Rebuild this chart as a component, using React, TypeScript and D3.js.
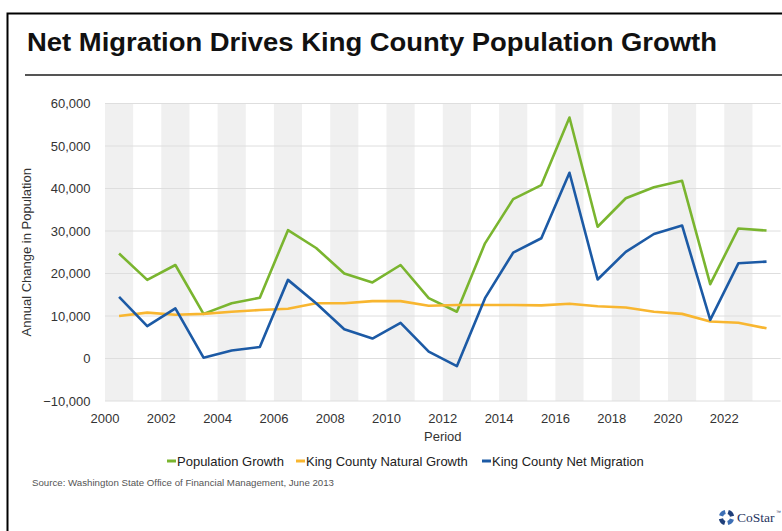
import React from "react";
import * as d3 from "d3";

const years = [2000, 2001, 2002, 2003, 2004, 2005, 2006, 2007, 2008, 2009, 2010, 2011, 2012, 2013, 2014, 2015, 2016, 2017, 2018, 2019, 2020, 2021, 2022, 2023];
const populationGrowth = [24700, 18500, 22000, 10500, 13000, 14300, 30200, 26000, 20000, 17900, 22000, 14200, 11000, 27100, 37500, 40800, 56700, 31000, 37700, 40300, 41800, 17500, 30600, 30100];
const naturalGrowth = [10000, 10800, 10300, 10500, 11000, 11400, 11700, 13000, 13000, 13500, 13500, 12400, 12600, 12600, 12600, 12500, 12900, 12300, 12000, 11000, 10500, 8700, 8400, 7100];
const netMigration = [14500, 7600, 11800, 200, 1900, 2700, 18500, 13000, 6900, 4700, 8400, 1600, -1800, 14200, 24900, 28300, 43700, 18600, 25100, 29300, 31300, 9100, 22400, 22800];
const yTicks = [-10000, 0, 10000, 20000, 30000, 40000, 50000, 60000];
const xTicks = [2000, 2002, 2004, 2006, 2008, 2010, 2012, 2014, 2016, 2018, 2020, 2022];
const seriesNames = ["Population Growth", "King County Natural Growth", "King County Net Migration"];
const seriesColors = ["#7ab52f", "#f8b630", "#1c5aa5"];

const FONT = "'Liberation Sans', Arial, sans-serif";

export default function App() {
  const W = 782, H = 531;
  const left = 105, right = 780.6, top = 103.5, bottom = 401;
  const x = d3.scaleLinear().domain([2000, 2024]).range([left, right]);
  const y = d3.scaleLinear().domain([-10000, 60000]).range([bottom, top]);
  const series = [populationGrowth, naturalGrowth, netMigration];
  const line = d3.line<number>().x((_, i) => x(years[i] + 0.5)).y((d) => y(d));
  const bandYears = years.filter((yr) => yr % 2 === 0);
  const fmt = d3.format(",");

  const legendX = [167, 296, 482];
  const cx = 726.5, cy = 517.5;
  const arc = d3.arc<any>();
  const logoArcs = [0, 1, 2, 3].map((k) => ({
    innerRadius: 3.6,
    outerRadius: 7.8,
    startAngle: (k * Math.PI) / 2 + 0.3,
    endAngle: (k * Math.PI) / 2 + 1.35,
  }));

  return (
    <svg width={W} height={H} style={{ position: "absolute", left: 0, top: 0, background: "#fff" }} fontFamily={FONT}>
      <rect x={0} y={0} width={W} height={H} fill="#fff" />
      <rect x={7.5} y={13.5} width={W + 20} height={H + 20} fill="none" stroke="#000" strokeWidth={2} />
      <text x={27} y={51} fontSize={26} fontWeight="bold" fill="#111" textLength={690} lengthAdjust="spacingAndGlyphs">
        Net Migration Drives King County Population Growth
      </text>
      <line x1={25} x2={W} y1={75} y2={75} stroke="#555" strokeWidth={2} />

      {bandYears.map((yr) => (
        <rect key={yr} x={x(yr)} y={top} width={x(yr + 1) - x(yr)} height={bottom - top} fill="#f0f0f0" />
      ))}
      {yTicks.map((t) => (
        <g key={t}>
          <line x1={left} x2={right} y1={y(t)} y2={y(t)} stroke="#dedede" strokeWidth={1} />
          <text x={90.5} y={y(t)} dy="0.35em" textAnchor="end" fontSize={13} fill="#333">
            {fmt(t)}
          </text>
        </g>
      ))}
      {xTicks.map((t) => (
        <text key={t} x={x(t)} y={423} textAnchor="middle" fontSize={13} fill="#333">
          {t}
        </text>
      ))}
      <text x={(left + right) / 2} y={441} textAnchor="middle" fontSize={13} fill="#333">Period</text>
      <text transform={`translate(31,${(top + bottom) / 2}) rotate(-90)`} textAnchor="middle" fontSize={13} fill="#333">
        Annual Change in Population
      </text>

      {series.map((s, i) => (
        <path key={i} d={line(s) || ""} fill="none" stroke={seriesColors[i]} strokeWidth={2.6} strokeLinejoin="round" />
      ))}

      {seriesNames.map((n, i) => (
        <g key={n}>
          <line x1={legendX[i]} x2={legendX[i] + 9} y1={461} y2={461} stroke={seriesColors[i]} strokeWidth={3} />
          <text x={legendX[i] + 10} y={465.5} fontSize={13} fill="#222">{n}</text>
        </g>
      ))}

      <text x={32} y={486} fontSize={9.7} fill="#555" textLength={302} lengthAdjust="spacingAndGlyphs">
        Source: Washington State Office of Financial Management, June 2013
      </text>

      <g transform={`translate(${cx},${cy})`}>
        {logoArcs.map((a, k) => (
          <path key={k} d={arc(a) || ""} fill={k % 2 === 0 ? "#1f3f7a" : "#3d6fb5"} />
        ))}
      </g>
      <text x={737} y={521.5} fontSize={13.5} fontFamily="'Liberation Serif', 'Times New Roman', serif" fill="#1f3360">CoStar</text>
      <text x={776} y={514} fontSize={5} fill="#1f3360">™</text>
    </svg>
  );
}
